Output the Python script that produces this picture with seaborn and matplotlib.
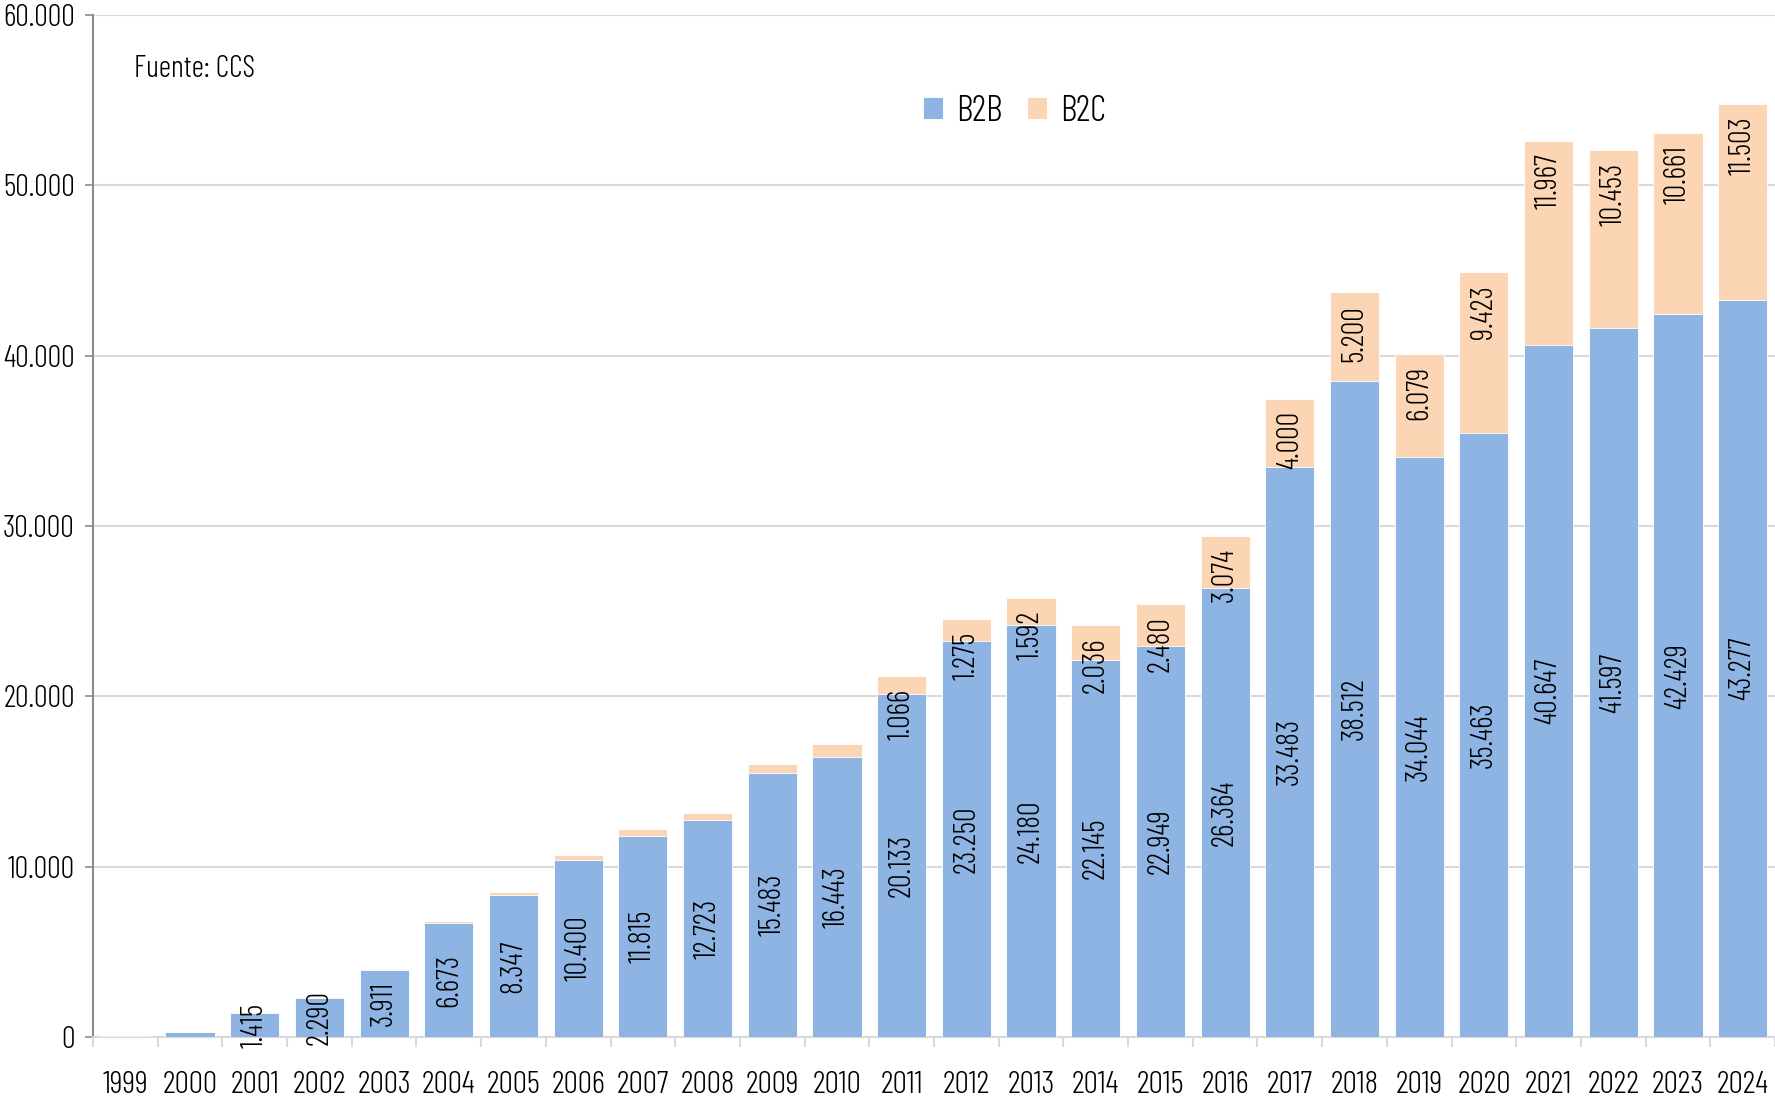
import matplotlib
matplotlib.use("Agg")
import matplotlib.pyplot as plt
import seaborn as sns
import pandas as pd
import numpy as np
from matplotlib.ticker import FuncFormatter, MultipleLocator, FixedLocator

years = [str(y) for y in range(1999, 2025)]
b2b = [80, 300, 1415, 2290, 3911, 6673, 8347, 10400, 11815, 12723, 15483, 16443,
       20133, 23250, 24180, 22145, 22949, 26364, 33483, 38512, 34044, 35463,
       40647, 41597, 42429, 43277]
b2c = [30, 20, 50, 60, 100, 117, 195, 310, 390, 430, 525, 740,
       1066, 1275, 1592, 2036, 2480, 3074, 4000, 5200, 6079, 9423,
       11967, 10453, 10661, 11503]
b2b_label_min = 1000
b2c_label_from = 2011

sns.set_theme(style="white")
FONT = ['Barlow Condensed', 'Oswald', 'DejaVu Sans']
plt.rcParams['font.family'] = FONT
plt.rcParams['font.weight'] = 300

c_b2b = "#8EB4E3"
c_b2c = "#FCD5B5"
FS = 22

df = pd.DataFrame({"year": years, "B2B": b2b, "B2C": b2c})
df["total"] = df["B2B"] + df["B2C"]

fig = plt.figure(figsize=(17.75, 11), dpi=100)
left = 93 / 1775
ax = fig.add_axes([left, 63 / 1100, 1 - left, (1037 - 15) / 1100])

sns.barplot(data=df, x="year", y="total", color=c_b2c, width=0.76, ax=ax,
            saturation=1, edgecolor="white", linewidth=0.6, label="B2C", zorder=2)
sns.barplot(data=df, x="year", y="B2B", color=c_b2b, width=0.76, ax=ax,
            saturation=1, edgecolor="white", linewidth=0.6, label="B2B", zorder=3)

def fmt(v):
    return f"{int(v):,}".replace(",", ".")

for i, (y, a, c) in enumerate(zip(years, b2b, b2c)):
    if a >= b2b_label_min:
        ax.text(i, a / 2, fmt(a), rotation=90, ha="center", va="center",
                fontsize=FS, color="black", zorder=5)
    if int(y) >= b2c_label_from:
        ax.annotate(fmt(c), xy=(i, a + c), xytext=(0, -9), textcoords="offset points",
                    rotation=90, ha="center", va="top", fontsize=FS, color="black", zorder=5)

ax.set_xlim(-0.5, len(years) - 0.5)
ax.set_ylim(0, 60000)
ax.yaxis.set_major_locator(MultipleLocator(10000))
ax.yaxis.set_major_formatter(FuncFormatter(lambda v, p: fmt(v)))
ax.grid(axis="y", color="#D9D9D9", linewidth=1.5, zorder=0)
ax.set_axisbelow(True)
ax.set_xlabel("")
ax.set_ylabel("")

for s in ["top", "right"]:
    ax.spines[s].set_visible(False)
ax.spines["left"].set_color("#8C8C8C")
ax.spines["left"].set_linewidth(1.5)
ax.spines["bottom"].set_color("#D9D9D9")
ax.spines["bottom"].set_linewidth(1.5)

ax.tick_params(axis="y", which="major", left=True, length=6, width=1.2, color="#8C8C8C",
               labelsize=FS, pad=7, labelcolor="black")
ax.tick_params(axis="x", which="major", bottom=False, labelsize=23, pad=18.5, labelcolor="black")
ax.xaxis.set_minor_locator(FixedLocator(np.arange(-0.5, len(years), 1.0)))
ax.tick_params(axis="x", which="minor", bottom=True, length=7.5, width=1.5, color="#D9D9D9")

ax.text(0.0243, 0.947, "Fuente: CCS", transform=ax.transAxes, fontsize=FS,
        ha="left", va="center", color="black")

handles, labels = ax.get_legend_handles_labels()
order = [labels.index("B2B"), labels.index("B2C")]
leg = ax.legend([handles[k] for k in order], [labels[k] for k in order],
                loc="center", bbox_to_anchor=(0.548, 0.906), ncol=2, frameon=False,
                fontsize=26, handlelength=0.55, handleheight=0.55, handletextpad=0.35,
                columnspacing=0.7)
for t in leg.get_texts():
    t.set_color("black")

fig.savefig("out.png", dpi=100)
